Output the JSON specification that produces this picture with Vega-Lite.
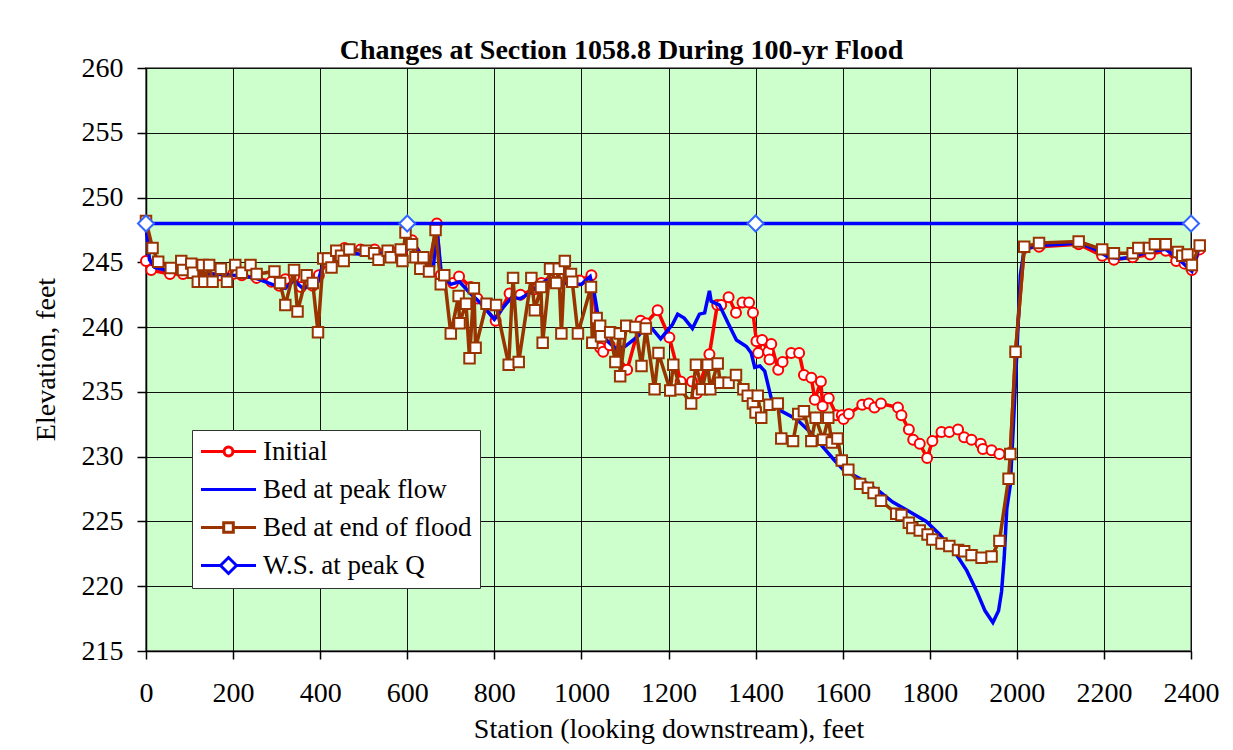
{
  "$schema": "https://vega.github.io/schema/vega-lite/v6.json",
  "width": 1045,
  "height": 583,
  "autosize": {"type": "none"},
  "padding": {"left": 146, "top": 68, "right": 42, "bottom": 99},
  "background": "white",
  "title": {
    "text": "Changes at Section 1058.8 During 100-yr Flood",
    "font": "Liberation Serif", "fontSize": 28, "fontWeight": "bold", "color": "black",
    "anchor": "middle", "dx": -47, "dy": 48, "offset": 15, "baseline": "alphabetic", "frame": "group"
  },
  "config": {
    "view": {"fill": "#CCFFCC", "stroke": "#808080", "strokeWidth": 2},
    "axis": {
      "labelFont": "Liberation Serif", "labelFontSize": 28, "labelColor": "black",
      "titleFont": "Liberation Serif", "titleFontSize": 28, "titleFontWeight": "normal", "titleColor": "black",
      "grid": true, "gridColor": "#111111", "gridOpacity": 1, "gridWidth": 1,
      "tickColor": "black", "tickWidth": 1.5, "domainColor": "black", "domainWidth": 1.5,
      "labelOverlap": false, "labelFlush": false, "format": "d"
    }
  },
  "datasets": {
    "initial": [
      {"series":"Initial","station":0,"elev":245.1},{"series":"Initial","station":12,"elev":244.4},{"series":"Initial","station":55,"elev":244.1},{"series":"Initial","station":85,"elev":244.1},{"series":"Initial","station":110,"elev":244.3},{"series":"Initial","station":138,"elev":244.2},{"series":"Initial","station":170,"elev":244.0},{"series":"Initial","station":200,"elev":244.1},{"series":"Initial","station":220,"elev":244.0},{"series":"Initial","station":254,"elev":243.8},{"series":"Initial","station":288,"elev":243.5},{"series":"Initial","station":306,"elev":243.2},{"series":"Initial","station":320,"elev":243.7},{"series":"Initial","station":340,"elev":243.9},{"series":"Initial","station":356,"elev":243.1},{"series":"Initial","station":383,"elev":243.2},{"series":"Initial","station":397,"elev":244.0},{"series":"Initial","station":415,"elev":245.0},{"series":"Initial","station":440,"elev":245.6},{"series":"Initial","station":456,"elev":246.1},{"series":"Initial","station":493,"elev":246.0},{"series":"Initial","station":525,"elev":246.0},{"series":"Initial","station":561,"elev":245.9},{"series":"Initial","station":588,"elev":245.8},{"series":"Initial","station":611,"elev":246.7},{"series":"Initial","station":650,"elev":244.7},{"series":"Initial","station":668,"elev":248.0},{"series":"Initial","station":677,"elev":244.0},{"series":"Initial","station":705,"elev":243.4},{"series":"Initial","station":719,"elev":243.9},{"series":"Initial","station":746,"elev":243.1},{"series":"Initial","station":761,"elev":242.2},{"series":"Initial","station":803,"elev":240.5},{"series":"Initial","station":835,"elev":242.6},{"series":"Initial","station":860,"elev":242.5},{"series":"Initial","station":891,"elev":242.9},{"series":"Initial","station":908,"elev":243.4},{"series":"Initial","station":935,"elev":244.1},{"series":"Initial","station":957,"elev":243.9},{"series":"Initial","station":996,"elev":243.6},{"series":"Initial","station":1023,"elev":244.0},{"series":"Initial","station":1043,"elev":238.4},{"series":"Initial","station":1050,"elev":238.1},{"series":"Initial","station":1065,"elev":238.6},{"series":"Initial","station":1105,"elev":236.7},{"series":"Initial","station":1136,"elev":240.5},{"series":"Initial","station":1148,"elev":240.3},{"series":"Initial","station":1175,"elev":241.3},{"series":"Initial","station":1202,"elev":239.2},{"series":"Initial","station":1228,"elev":235.8},{"series":"Initial","station":1254,"elev":235.8},{"series":"Initial","station":1265,"elev":234.9},{"series":"Initial","station":1294,"elev":237.9},{"series":"Initial","station":1312,"elev":241.7},{"series":"Initial","station":1321,"elev":241.7},{"series":"Initial","station":1338,"elev":242.3},{"series":"Initial","station":1355,"elev":241.1},{"series":"Initial","station":1370,"elev":241.9},{"series":"Initial","station":1385,"elev":241.9},{"series":"Initial","station":1394,"elev":241.1},{"series":"Initial","station":1402,"elev":238.9},{"series":"Initial","station":1406,"elev":238.0},{"series":"Initial","station":1415,"elev":239.0},{"series":"Initial","station":1429,"elev":238.1},{"series":"Initial","station":1432,"elev":237.5},{"series":"Initial","station":1436,"elev":238.7},{"series":"Initial","station":1452,"elev":236.7},{"series":"Initial","station":1462,"elev":237.3},{"series":"Initial","station":1482,"elev":238.0},{"series":"Initial","station":1500,"elev":238.0},{"series":"Initial","station":1511,"elev":236.3},{"series":"Initial","station":1528,"elev":236.1},{"series":"Initial","station":1536,"elev":234.4},{"series":"Initial","station":1550,"elev":235.8},{"series":"Initial","station":1554,"elev":233.9},{"series":"Initial","station":1568,"elev":234.5},{"series":"Initial","station":1586,"elev":233.2},{"series":"Initial","station":1598,"elev":233.2},{"series":"Initial","station":1602,"elev":232.9},{"series":"Initial","station":1614,"elev":233.3},{"series":"Initial","station":1645,"elev":234.0},{"series":"Initial","station":1660,"elev":234.1},{"series":"Initial","station":1673,"elev":233.8},{"series":"Initial","station":1688,"elev":234.1},{"series":"Initial","station":1727,"elev":233.8},{"series":"Initial","station":1735,"elev":233.2},{"series":"Initial","station":1752,"elev":232.1},{"series":"Initial","station":1762,"elev":231.3},{"series":"Initial","station":1777,"elev":231.0},{"series":"Initial","station":1794,"elev":229.9},{"series":"Initial","station":1806,"elev":231.2},{"series":"Initial","station":1827,"elev":231.9},{"series":"Initial","station":1845,"elev":231.9},{"series":"Initial","station":1865,"elev":232.1},{"series":"Initial","station":1879,"elev":231.5},{"series":"Initial","station":1896,"elev":231.3},{"series":"Initial","station":1917,"elev":231.0},{"series":"Initial","station":1922,"elev":230.6},{"series":"Initial","station":1942,"elev":230.5},{"series":"Initial","station":1960,"elev":230.2},{"series":"Initial","station":1985,"elev":230.3},{"series":"Initial","station":1997,"elev":238.0},{"series":"Initial","station":2017,"elev":246.1},{"series":"Initial","station":2051,"elev":246.2},{"series":"Initial","station":2142,"elev":246.4},{"series":"Initial","station":2196,"elev":245.5},{"series":"Initial","station":2223,"elev":245.2},{"series":"Initial","station":2266,"elev":245.4},{"series":"Initial","station":2306,"elev":245.6},{"series":"Initial","station":2342,"elev":245.9},{"series":"Initial","station":2366,"elev":245.1},{"series":"Initial","station":2385,"elev":244.9},{"series":"Initial","station":2402,"elev":244.4},{"series":"Initial","station":2420,"elev":246.0}
    ],
    "peak": [
      {"series":"Bed at peak flow","station":0,"elev":247.8},{"series":"Bed at peak flow","station":8,"elev":245.2},{"series":"Bed at peak flow","station":20,"elev":244.6},{"series":"Bed at peak flow","station":60,"elev":244.3},{"series":"Bed at peak flow","station":100,"elev":244.2},{"series":"Bed at peak flow","station":150,"elev":244.1},{"series":"Bed at peak flow","station":200,"elev":244.0},{"series":"Bed at peak flow","station":250,"elev":243.8},{"series":"Bed at peak flow","station":290,"elev":243.3},{"series":"Bed at peak flow","station":320,"elev":243.0},{"series":"Bed at peak flow","station":340,"elev":243.6},{"series":"Bed at peak flow","station":360,"elev":243.0},{"series":"Bed at peak flow","station":380,"elev":243.2},{"series":"Bed at peak flow","station":395,"elev":243.5},{"series":"Bed at peak flow","station":410,"elev":245.3},{"series":"Bed at peak flow","station":440,"elev":245.8},{"series":"Bed at peak flow","station":470,"elev":245.7},{"series":"Bed at peak flow","station":500,"elev":245.6},{"series":"Bed at peak flow","station":540,"elev":245.7},{"series":"Bed at peak flow","station":580,"elev":245.6},{"series":"Bed at peak flow","station":600,"elev":246.0},{"series":"Bed at peak flow","station":615,"elev":246.5},{"series":"Bed at peak flow","station":640,"elev":245.0},{"series":"Bed at peak flow","station":660,"elev":244.6},{"series":"Bed at peak flow","station":668,"elev":247.6},{"series":"Bed at peak flow","station":678,"elev":244.2},{"series":"Bed at peak flow","station":700,"elev":243.3},{"series":"Bed at peak flow","station":720,"elev":243.5},{"series":"Bed at peak flow","station":745,"elev":242.6},{"series":"Bed at peak flow","station":770,"elev":241.8},{"series":"Bed at peak flow","station":800,"elev":240.6},{"series":"Bed at peak flow","station":820,"elev":241.5},{"series":"Bed at peak flow","station":840,"elev":242.3},{"series":"Bed at peak flow","station":860,"elev":242.2},{"series":"Bed at peak flow","station":880,"elev":242.6},{"series":"Bed at peak flow","station":900,"elev":243.2},{"series":"Bed at peak flow","station":920,"elev":243.6},{"series":"Bed at peak flow","station":940,"elev":243.7},{"series":"Bed at peak flow","station":960,"elev":243.4},{"series":"Bed at peak flow","station":980,"elev":243.3},{"series":"Bed at peak flow","station":1000,"elev":243.3},{"series":"Bed at peak flow","station":1020,"elev":243.9},{"series":"Bed at peak flow","station":1030,"elev":242.5},{"series":"Bed at peak flow","station":1045,"elev":239.5},{"series":"Bed at peak flow","station":1060,"elev":238.9},{"series":"Bed at peak flow","station":1080,"elev":238.3},{"series":"Bed at peak flow","station":1100,"elev":238.5},{"series":"Bed at peak flow","station":1115,"elev":238.9},{"series":"Bed at peak flow","station":1130,"elev":239.3},{"series":"Bed at peak flow","station":1146,"elev":239.9},{"series":"Bed at peak flow","station":1162,"elev":239.9},{"series":"Bed at peak flow","station":1182,"elev":239.1},{"series":"Bed at peak flow","station":1194,"elev":239.6},{"series":"Bed at peak flow","station":1209,"elev":240.2},{"series":"Bed at peak flow","station":1221,"elev":241.0},{"series":"Bed at peak flow","station":1236,"elev":240.7},{"series":"Bed at peak flow","station":1255,"elev":239.9},{"series":"Bed at peak flow","station":1271,"elev":241.0},{"series":"Bed at peak flow","station":1283,"elev":241.1},{"series":"Bed at peak flow","station":1290,"elev":242.2},{"series":"Bed at peak flow","station":1294,"elev":242.8},{"series":"Bed at peak flow","station":1298,"elev":242.0},{"series":"Bed at peak flow","station":1317,"elev":241.7},{"series":"Bed at peak flow","station":1337,"elev":240.3},{"series":"Bed at peak flow","station":1356,"elev":239.0},{"series":"Bed at peak flow","station":1379,"elev":238.5},{"series":"Bed at peak flow","station":1390,"elev":238.0},{"series":"Bed at peak flow","station":1398,"elev":236.9},{"series":"Bed at peak flow","station":1410,"elev":237.0},{"series":"Bed at peak flow","station":1421,"elev":236.6},{"series":"Bed at peak flow","station":1436,"elev":234.5},{"series":"Bed at peak flow","station":1455,"elev":233.6},{"series":"Bed at peak flow","station":1494,"elev":232.9},{"series":"Bed at peak flow","station":1525,"elev":231.9},{"series":"Bed at peak flow","station":1556,"elev":230.7},{"series":"Bed at peak flow","station":1579,"elev":229.8},{"series":"Bed at peak flow","station":1601,"elev":229.0},{"series":"Bed at peak flow","station":1640,"elev":228.3},{"series":"Bed at peak flow","station":1685,"elev":227.3},{"series":"Bed at peak flow","station":1715,"elev":226.5},{"series":"Bed at peak flow","station":1746,"elev":225.9},{"series":"Bed at peak flow","station":1792,"elev":225.0},{"series":"Bed at peak flow","station":1823,"elev":224.0},{"series":"Bed at peak flow","station":1862,"elev":222.4},{"series":"Bed at peak flow","station":1885,"elev":221.2},{"series":"Bed at peak flow","station":1908,"elev":219.6},{"series":"Bed at peak flow","station":1927,"elev":218.1},{"series":"Bed at peak flow","station":1945,"elev":217.2},{"series":"Bed at peak flow","station":1958,"elev":218.1},{"series":"Bed at peak flow","station":1965,"elev":219.6},{"series":"Bed at peak flow","station":1971,"elev":222.2},{"series":"Bed at peak flow","station":1977,"elev":226.0},{"series":"Bed at peak flow","station":1985,"elev":227.8},{"series":"Bed at peak flow","station":1992,"elev":232.4},{"series":"Bed at peak flow","station":2000,"elev":238.0},{"series":"Bed at peak flow","station":2008,"elev":244.0},{"series":"Bed at peak flow","station":2017,"elev":246.0},{"series":"Bed at peak flow","station":2051,"elev":246.3},{"series":"Bed at peak flow","station":2100,"elev":246.4},{"series":"Bed at peak flow","station":2142,"elev":246.5},{"series":"Bed at peak flow","station":2180,"elev":246.0},{"series":"Bed at peak flow","station":2210,"elev":245.4},{"series":"Bed at peak flow","station":2240,"elev":245.3},{"series":"Bed at peak flow","station":2266,"elev":245.4},{"series":"Bed at peak flow","station":2300,"elev":245.8},{"series":"Bed at peak flow","station":2342,"elev":246.0},{"series":"Bed at peak flow","station":2370,"elev":245.3},{"series":"Bed at peak flow","station":2402,"elev":244.3},{"series":"Bed at peak flow","station":2420,"elev":246.3}
    ],
    "endflood": [
      {"series":"Bed at end of flood","station":0,"elev":248.2},{"series":"Bed at end of flood","station":15,"elev":246.1},{"series":"Bed at end of flood","station":28,"elev":245.05},{"series":"Bed at end of flood","station":57,"elev":244.56},{"series":"Bed at end of flood","station":81,"elev":245.1},{"series":"Bed at end of flood","station":85,"elev":244.4},{"series":"Bed at end of flood","station":104,"elev":244.9},{"series":"Bed at end of flood","station":108,"elev":244.2},{"series":"Bed at end of flood","station":119,"elev":243.5},{"series":"Bed at end of flood","station":130,"elev":244.8},{"series":"Bed at end of flood","station":134,"elev":243.5},{"series":"Bed at end of flood","station":145,"elev":244.8},{"series":"Bed at end of flood","station":153,"elev":243.5},{"series":"Bed at end of flood","station":172,"elev":244.5},{"series":"Bed at end of flood","station":186,"elev":243.5},{"series":"Bed at end of flood","station":205,"elev":244.8},{"series":"Bed at end of flood","station":220,"elev":244.2},{"series":"Bed at end of flood","station":240,"elev":244.8},{"series":"Bed at end of flood","station":254,"elev":244.1},{"series":"Bed at end of flood","station":295,"elev":244.3},{"series":"Bed at end of flood","station":308,"elev":243.4},{"series":"Bed at end of flood","station":320,"elev":241.7},{"series":"Bed at end of flood","station":340,"elev":244.4},{"series":"Bed at end of flood","station":348,"elev":241.2},{"series":"Bed at end of flood","station":369,"elev":244.0},{"series":"Bed at end of flood","station":383,"elev":243.4},{"series":"Bed at end of flood","station":395,"elev":239.6},{"series":"Bed at end of flood","station":407,"elev":245.3},{"series":"Bed at end of flood","station":418,"elev":245.3},{"series":"Bed at end of flood","station":426,"elev":244.6},{"series":"Bed at end of flood","station":437,"elev":245.9},{"series":"Bed at end of flood","station":448,"elev":245.5},{"series":"Bed at end of flood","station":454,"elev":245.1},{"series":"Bed at end of flood","station":467,"elev":246.0},{"series":"Bed at end of flood","station":505,"elev":245.9},{"series":"Bed at end of flood","station":524,"elev":245.7},{"series":"Bed at end of flood","station":534,"elev":245.2},{"series":"Bed at end of flood","station":555,"elev":245.9},{"series":"Bed at end of flood","station":562,"elev":245.4},{"series":"Bed at end of flood","station":585,"elev":246.0},{"series":"Bed at end of flood","station":589,"elev":245.1},{"series":"Bed at end of flood","station":596,"elev":247.3},{"series":"Bed at end of flood","station":611,"elev":246.4},{"series":"Bed at end of flood","station":619,"elev":245.4},{"series":"Bed at end of flood","station":630,"elev":244.5},{"series":"Bed at end of flood","station":637,"elev":245.4},{"series":"Bed at end of flood","station":650,"elev":244.3},{"series":"Bed at end of flood","station":665,"elev":247.5},{"series":"Bed at end of flood","station":677,"elev":243.3},{"series":"Bed at end of flood","station":685,"elev":244.0},{"series":"Bed at end of flood","station":700,"elev":239.5},{"series":"Bed at end of flood","station":718,"elev":242.4},{"series":"Bed at end of flood","station":720,"elev":240.3},{"series":"Bed at end of flood","station":735,"elev":241.8},{"series":"Bed at end of flood","station":743,"elev":237.6},{"series":"Bed at end of flood","station":753,"elev":243.0},{"series":"Bed at end of flood","station":757,"elev":238.4},{"series":"Bed at end of flood","station":782,"elev":241.8},{"series":"Bed at end of flood","station":804,"elev":241.7},{"series":"Bed at end of flood","station":833,"elev":237.1},{"series":"Bed at end of flood","station":843,"elev":243.8},{"series":"Bed at end of flood","station":856,"elev":237.3},{"series":"Bed at end of flood","station":885,"elev":243.8},{"series":"Bed at end of flood","station":893,"elev":241.3},{"series":"Bed at end of flood","station":907,"elev":243.1},{"series":"Bed at end of flood","station":911,"elev":238.8},{"series":"Bed at end of flood","station":928,"elev":244.5},{"series":"Bed at end of flood","station":942,"elev":243.4},{"series":"Bed at end of flood","station":948,"elev":244.5},{"series":"Bed at end of flood","station":954,"elev":239.5},{"series":"Bed at end of flood","station":962,"elev":245.1},{"series":"Bed at end of flood","station":976,"elev":244.1},{"series":"Bed at end of flood","station":979,"elev":243.5},{"series":"Bed at end of flood","station":992,"elev":239.5},{"series":"Bed at end of flood","station":1022,"elev":243.1},{"series":"Bed at end of flood","station":1025,"elev":238.8},{"series":"Bed at end of flood","station":1035,"elev":240.7},{"series":"Bed at end of flood","station":1043,"elev":240.1},{"series":"Bed at end of flood","station":1045,"elev":239.3},{"series":"Bed at end of flood","station":1066,"elev":239.6},{"series":"Bed at end of flood","station":1078,"elev":237.3},{"series":"Bed at end of flood","station":1088,"elev":239.5},{"series":"Bed at end of flood","station":1089,"elev":236.2},{"series":"Bed at end of flood","station":1103,"elev":240.1},{"series":"Bed at end of flood","station":1124,"elev":240.0},{"series":"Bed at end of flood","station":1138,"elev":237.0},{"series":"Bed at end of flood","station":1148,"elev":239.9},{"series":"Bed at end of flood","station":1168,"elev":235.2},{"series":"Bed at end of flood","station":1177,"elev":238.0},{"series":"Bed at end of flood","station":1204,"elev":235.1},{"series":"Bed at end of flood","station":1211,"elev":237.1},{"series":"Bed at end of flood","station":1228,"elev":235.2},{"series":"Bed at end of flood","station":1252,"elev":234.1},{"series":"Bed at end of flood","station":1263,"elev":237.1},{"series":"Bed at end of flood","station":1277,"elev":235.2},{"series":"Bed at end of flood","station":1290,"elev":237.1},{"series":"Bed at end of flood","station":1296,"elev":235.2},{"series":"Bed at end of flood","station":1313,"elev":237.2},{"series":"Bed at end of flood","station":1319,"elev":235.7},{"series":"Bed at end of flood","station":1338,"elev":235.7},{"series":"Bed at end of flood","station":1355,"elev":236.3},{"series":"Bed at end of flood","station":1372,"elev":235.2},{"series":"Bed at end of flood","station":1382,"elev":234.7},{"series":"Bed at end of flood","station":1394,"elev":234.1},{"series":"Bed at end of flood","station":1400,"elev":233.4},{"series":"Bed at end of flood","station":1405,"elev":234.7},{"series":"Bed at end of flood","station":1413,"elev":233.0},{"series":"Bed at end of flood","station":1432,"elev":234.0},{"series":"Bed at end of flood","station":1451,"elev":234.1},{"series":"Bed at end of flood","station":1459,"elev":231.4},{"series":"Bed at end of flood","station":1486,"elev":231.2},{"series":"Bed at end of flood","station":1498,"elev":233.3},{"series":"Bed at end of flood","station":1511,"elev":233.5},{"series":"Bed at end of flood","station":1528,"elev":231.2},{"series":"Bed at end of flood","station":1538,"elev":233.0},{"series":"Bed at end of flood","station":1555,"elev":231.3},{"series":"Bed at end of flood","station":1567,"elev":233.0},{"series":"Bed at end of flood","station":1575,"elev":231.1},{"series":"Bed at end of flood","station":1588,"elev":231.4},{"series":"Bed at end of flood","station":1598,"elev":229.7},{"series":"Bed at end of flood","station":1613,"elev":229.0},{"series":"Bed at end of flood","station":1640,"elev":227.9},{"series":"Bed at end of flood","station":1658,"elev":227.6},{"series":"Bed at end of flood","station":1671,"elev":227.2},{"series":"Bed at end of flood","station":1688,"elev":226.6},{"series":"Bed at end of flood","station":1723,"elev":225.6},{"series":"Bed at end of flood","station":1735,"elev":225.5},{"series":"Bed at end of flood","station":1752,"elev":224.9},{"series":"Bed at end of flood","station":1760,"elev":224.5},{"series":"Bed at end of flood","station":1777,"elev":224.3},{"series":"Bed at end of flood","station":1795,"elev":224.0},{"series":"Bed at end of flood","station":1806,"elev":223.6},{"series":"Bed at end of flood","station":1827,"elev":223.3},{"series":"Bed at end of flood","station":1845,"elev":223.1},{"series":"Bed at end of flood","station":1865,"elev":222.8},{"series":"Bed at end of flood","station":1879,"elev":222.7},{"series":"Bed at end of flood","station":1896,"elev":222.4},{"series":"Bed at end of flood","station":1919,"elev":222.2},{"series":"Bed at end of flood","station":1942,"elev":222.3},{"series":"Bed at end of flood","station":1960,"elev":223.5},{"series":"Bed at end of flood","station":1981,"elev":228.3},{"series":"Bed at end of flood","station":1985,"elev":230.2},{"series":"Bed at end of flood","station":1997,"elev":238.1},{"series":"Bed at end of flood","station":2017,"elev":246.2},{"series":"Bed at end of flood","station":2051,"elev":246.5},{"series":"Bed at end of flood","station":2142,"elev":246.6},{"series":"Bed at end of flood","station":2196,"elev":246.0},{"series":"Bed at end of flood","station":2223,"elev":245.7},{"series":"Bed at end of flood","station":2266,"elev":245.7},{"series":"Bed at end of flood","station":2279,"elev":246.1},{"series":"Bed at end of flood","station":2304,"elev":246.1},{"series":"Bed at end of flood","station":2317,"elev":246.4},{"series":"Bed at end of flood","station":2342,"elev":246.4},{"series":"Bed at end of flood","station":2370,"elev":245.8},{"series":"Bed at end of flood","station":2380,"elev":245.5},{"series":"Bed at end of flood","station":2392,"elev":245.6},{"series":"Bed at end of flood","station":2402,"elev":244.8},{"series":"Bed at end of flood","station":2420,"elev":246.3}
    ],
    "ws": [
      {"series":"W.S. at peak Q","station":0,"elev":248.0},{"series":"W.S. at peak Q","station":600,"elev":248.0},{"series":"W.S. at peak Q","station":1400,"elev":248.0},{"series":"W.S. at peak Q","station":2400,"elev":248.0}
    ]
  },
  "encoding": {
    "x": {
      "field": "station", "type": "quantitative",
      "scale": {"domain": [0, 2400], "nice": false, "zero": false},
      "axis": {
        "title": "Station (looking downstream), feet",
        "values": [0, 200, 400, 600, 800, 1000, 1200, 1400, 1600, 1800, 2000, 2200, 2400],
        "tickSize": 8, "labelPadding": 20, "titleY": 86, "titleBaseline": "alphabetic"
      }
    },
    "y": {
      "field": "elev", "type": "quantitative",
      "scale": {"domain": [215, 260], "nice": false, "zero": false},
      "axis": {
        "title": "Elevation, feet",
        "values": [215, 220, 225, 230, 235, 240, 245, 250, 255, 260],
        "tickSize": 9, "labelPadding": 14,
        "titleX": -92, "titleY": 291, "titleAngle": -90, "titleAlign": "center", "titleBaseline": "alphabetic"
      }
    }
  },
  "layer": [
    {
      "data": {"name": "initial"},
      "mark": {"type": "line", "strokeWidth": 3.5},
      "encoding": {
        "color": {
          "field": "series", "type": "nominal",
          "scale": {
            "domain": ["Initial", "Bed at peak flow", "Bed at end of flood", "W.S. at peak Q"],
            "range": ["#FF0000", "#0000FF", "#993300", "#0000FF"]
          },
          "legend": {
            "orient": "none", "legendX": 46, "legendY": 362, "title": null,
            "fillColor": "white", "strokeColor": "#333333", "padding": 8,
            "labelFont": "Liberation Serif", "labelFontSize": 27, "labelColor": "black", "labelLimit": 400,
            "symbolSize": 256, "symbolStrokeWidth": 3, "symbolOffset": 15, "labelOffset": 21, "rowPadding": 10,
            "encode": {
              "symbols": {
                "update": {
                  "shape": {"signal": "datum.value === 'Initial' ? 'M-3.44,0H-0.55M0.55,0H3.44M0.55,0A0.55,0.55,0,1,1,-0.55,0A0.55,0.55,0,1,1,0.55,0Z' : datum.value === 'Bed at peak flow' ? 'M-3.44,0H3.44' : datum.value === 'Bed at end of flood' ? 'M-3.44,0H-0.6M0.6,0H3.44M-0.6,-0.6H0.6V0.6H-0.6Z' : 'M-3.44,0H-1M1,0H3.44M-1,0L0,-1L1,0L0,1Z'"},
                  "fill": {"value": "white"},
                  "fillOpacity": {"value": 1},
                  "opacity": {"value": 1}
                }
              }
            }
          }
        }
      }
    },
    {
      "data": {"name": "initial"},
      "mark": {"type": "point", "shape": "circle", "filled": true, "fill": "white", "stroke": "#FF0000", "strokeWidth": 2, "size": 100, "opacity": 1}
    },
    {
      "data": {"name": "peak"},
      "mark": {"type": "line", "strokeWidth": 3.5},
      "encoding": {"color": {"field": "series", "type": "nominal"}}
    },
    {
      "data": {"name": "endflood"},
      "mark": {"type": "line", "strokeWidth": 3.5},
      "encoding": {"color": {"field": "series", "type": "nominal"}}
    },
    {
      "data": {"name": "endflood"},
      "mark": {"type": "point", "shape": "square", "filled": true, "fill": "white", "stroke": "#993300", "strokeWidth": 2, "size": 110, "opacity": 1}
    },
    {
      "data": {"name": "ws"},
      "mark": {"type": "line", "strokeWidth": 3.5},
      "encoding": {"color": {"field": "series", "type": "nominal"}}
    },
    {
      "data": {"name": "ws"},
      "mark": {"type": "point", "shape": "diamond", "filled": true, "fill": "white", "stroke": "#3366FF", "strokeWidth": 2, "size": 256, "opacity": 1}
    }
  ]
}
